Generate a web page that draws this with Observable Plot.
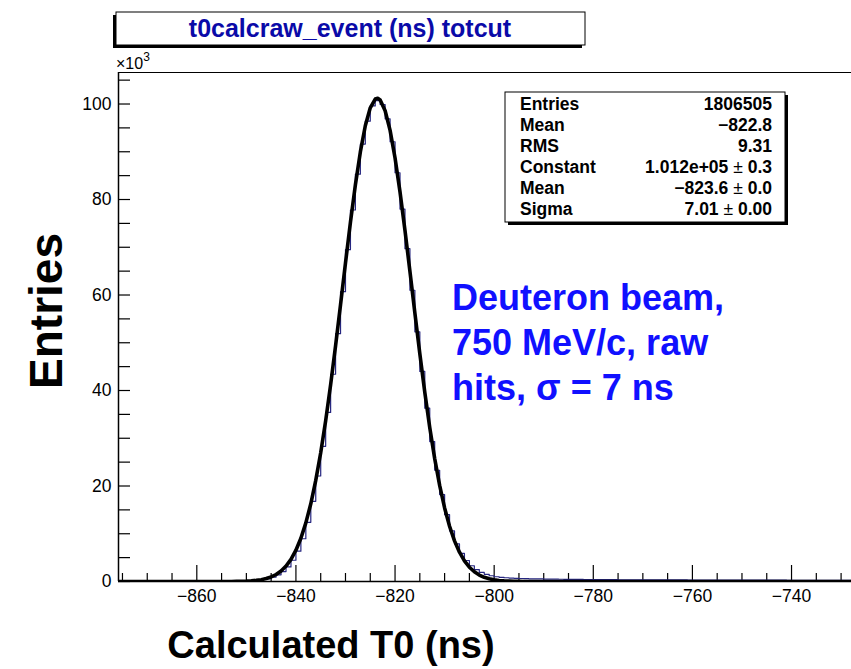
<!DOCTYPE html>
<html><head><meta charset="utf-8">
<script src="https://cdn.jsdelivr.net/npm/d3@7"></script>
<script src="https://cdn.jsdelivr.net/npm/@observablehq/plot@0.6"></script>
<style>
body{margin:0;background:#fff;}
#chart{width:851px;height:669px;overflow:hidden;}
</style></head><body><div id="chart"></div>
<script>
// ---- tick values ----
const xMajorTicks = [-860, -840, -820, -800, -780, -760, -740];
const xMinorTicks = [-875, -870, -865, -855, -850, -845, -835, -830, -825, -815, -810, -805, -795, -790, -785, -775, -770, -765, -755, -750, -745, -735, -730];
const yMajorTicks = [0, 20, 40, 60, 80, 100];
const yMinorTicks = [5, 10, 15, 25, 30, 35, 45, 50, 55, 65, 70, 75, 85, 90, 95, 105];

// ---- histogram: 1 ns bins, counts in units of 10^3, first bin low edge ----
const histStart = -876;
const histValues = [
  0, 0, 0, 0, 0, 0, 0, 0, 0, 0,
  0, 0, 0, 0, 0, 0, 0, 0, 0, 0,
  0.01, 0.02, 0.03, 0.05, 0.07, 0.10, 0.14, 0.20, 0.29, 0.42,
  0.60, 0.92, 1.40, 2.08, 3.05, 4.45, 6.35, 8.95, 12.4, 16.8,
  22.1, 28.3, 35.4, 43.4, 51.9, 60.7, 69.5, 77.8, 85.3, 91.6,
  96.4, 99.6, 100.7, 99.9, 96.9, 92.1, 85.6, 78.0, 69.7, 61.0,
  52.3, 44.0, 36.3, 29.3, 23.3, 18.2, 14.0, 10.6, 7.9, 5.9,
  4.4, 3.3, 2.5, 1.9, 1.5, 1.2, 1.0, 0.88, 0.79, 0.72,
  0.67, 0.63, 0.60, 0.57, 0.55, 0.53, 0.51, 0.49, 0.48, 0.47,
  0.46, 0.45, 0.44, 0.43, 0.42, 0.41, 0.40, 0.40, 0.39, 0.38,
  0.38, 0.37, 0.37, 0.36, 0.36, 0.35, 0.35, 0.34, 0.34, 0.33,
  0.33, 0.33, 0.32, 0.32, 0.32, 0.31, 0.31, 0.31, 0.30, 0.30,
  0.30, 0.30, 0.29, 0.29, 0.29, 0.29, 0.28, 0.28, 0.28, 0.28,
  0.27, 0.27, 0.27, 0.27, 0.27, 0.26, 0.26, 0.26, 0.26, 0.26,
  0.25, 0.25, 0.25, 0.25, 0.25, 0.25, 0.24, 0.24
];

// ---- gaussian fit curve as drawn (x in ns, y in 10^3) ----
const fitX = [-876, -860, -856, -854, -853, -852, -851, -850, -849, -848, -847, -846, -845, -844, -843, -842, -841, -840, -839, -838, -837, -836, -835, -834, -833, -832, -831, -830, -829, -828, -827, -826, -825, -824, -823.5, -823, -822, -821, -820, -819, -818, -817, -816, -815, -814, -813, -812, -811, -810, -809, -808, -807, -806, -805, -804, -803, -802, -801, -800, -799, -798, -797, -796, -795, -794, -792, -790, -728];
const fitY = [0, 0, 0.002, 0.008, 0.015, 0.028, 0.049, 0.084, 0.143, 0.237, 0.385, 0.614, 0.958, 1.467, 2.199, 3.229, 4.646, 6.554, 9.061, 12.27, 16.28, 21.17, 26.97, 33.67, 41.18, 49.37, 57.97, 66.71, 75.22, 83.11, 89.96, 95.44, 99.21, 101.04, 101.19, 100.83, 98.60, 94.47, 88.70, 81.60, 73.55, 64.97, 56.23, 47.69, 39.62, 32.26, 25.74, 20.12, 15.41, 11.57, 8.509, 6.131, 4.329, 2.995, 2.031, 1.349, 0.878, 0.560, 0.350, 0.214, 0.129, 0.076, 0.044, 0.025, 0.013, 0.003, 0, 0];

// ---- texts ----
const titleText = "t0calcraw_event (ns) totcut";
const xTitle = "Calculated T0 (ns)";
const yTitle = "Entries";
const statLabels = ["Entries", "Mean", "RMS", "Constant", "Mean", "Sigma"];
const statValues = [["1806505"], ["\u2212822.8"], ["9.31"], ["1.012e+05", "0.3"], ["\u2212823.6", "0.0"], ["7.01", "0.00"]];
const noteLines = ["Deuteron beam,", "750 MeV/c, raw", "hits, \u03c3 = 7 ns"];

// ---- build ----
const xDomain = [-875.8, -727.9];
const yDomain = [0, 106.6];
const W = 851, H = 669, mL = 118, mR = 0, mT = 72, mB = 88;
const plotW = W - mL - mR, plotH = H - mT - mB;

const hist = histValues.map((v, i) => ({x: histStart + i, y: v}));
hist.push({x: histStart + histValues.length, y: histValues[histValues.length - 1]});
const fit = fitX.map((x, i) => ({x, y: fitY[i]}));

const font = "'Liberation Sans', Arial, Helvetica, sans-serif";

const chart = Plot.plot({
  width: W, height: H,
  marginLeft: mL, marginRight: mR, marginTop: mT, marginBottom: mB,
  x: {domain: xDomain},
  y: {domain: yDomain},
  style: {fontFamily: font, background: "white", color: "black"},
  marks: [
    Plot.tickX(xMinorTicks, {x: d => d, insetTop: plotH - 8, stroke: "black", strokeWidth: 1.2}),
    Plot.tickX(xMajorTicks, {x: d => d, insetTop: plotH - 16, stroke: "black", strokeWidth: 1.2}),
    Plot.tickY(yMinorTicks.concat(yMajorTicks), {y: d => d, insetRight: plotW - 12, stroke: "black", strokeWidth: 1.2}),
    Plot.axisX(xMajorTicks, {tickSize: 0, tickPadding: 8, fontSize: 17.5, label: null}),
    Plot.axisY(yMajorTicks, {tickSize: 0, tickPadding: 7, fontSize: 17.5, label: null}),
    Plot.ruleY([yDomain[1]], {stroke: "black", strokeWidth: 1.2}),
    Plot.ruleX([xDomain[0]], {stroke: "black", strokeWidth: 1.5}),
    Plot.line(hist, {x: "x", y: "y", curve: "step-after", stroke: "#262680", strokeWidth: 1.2, clip: true}),
    Plot.line(fit, {x: "x", y: "y", stroke: "black", strokeWidth: 3.6, strokeLinejoin: "round", clip: true}),
    Plot.ruleY([0], {stroke: "black", strokeWidth: 1.5})
  ]
});
document.getElementById("chart").appendChild(chart);

const svg = d3.select(chart);
const g = svg.append("g").attr("font-family", font).attr("text-anchor", "start").attr("fill", "black");

// ×10^3 multiplier
const mult = g.append("text").attr("x", 116).attr("y", 69).attr("font-size", 16);
mult.append("tspan").text("\u00d710");
mult.append("tspan").attr("dy", -8).attr("font-size", 12).text("3");

// title box
g.append("rect").attr("x", 113).attr("y", 15).attr("width", 469).attr("height", 33).attr("fill", "black");
g.append("rect").attr("x", 116).attr("y", 12).attr("width", 469).attr("height", 33).attr("fill", "white").attr("stroke", "black").attr("stroke-width", 1);
g.append("text").attr("x", 350).attr("y", 37).attr("text-anchor", "middle")
  .attr("font-size", 25).attr("font-weight", "bold").attr("fill", "#0a0aa8").text(titleText);

// stats box
g.append("rect").attr("x", 508).attr("y", 95).attr("width", 280).attr("height", 130).attr("fill", "black");
g.append("rect").attr("x", 505).attr("y", 92).attr("width", 280).attr("height", 130).attr("fill", "white").attr("stroke", "black").attr("stroke-width", 1);
statLabels.forEach((lab, i) => {
  const yb = 110 + i * 21;
  g.append("text").attr("x", 520).attr("y", yb).attr("text-anchor", "start").attr("font-size", 17.5).attr("font-weight", "bold").text(lab);
  const t = g.append("text").attr("x", 772).attr("y", yb).attr("text-anchor", "end").attr("font-size", 17.5).attr("font-weight", "bold");
  const v = statValues[i];
  t.append("tspan").text(v[0]);
  if (v.length > 1) {
    t.append("tspan").attr("font-weight", "normal").text(" \u00b1 ");
    t.append("tspan").text(v[1]);
  }
});

// annotation
noteLines.forEach((line, i) => {
  g.append("text").attr("x", 452).attr("y", 310 + i * 45).attr("text-anchor", "start").attr("font-size", 36)
    .attr("font-weight", "bold").attr("fill", "#1010ff").text(line);
});

// axis titles
g.append("text").attr("x", 331).attr("y", 658).attr("text-anchor", "middle")
  .attr("font-size", 38).attr("font-weight", "bold").text(xTitle);
g.append("text").attr("transform", "translate(62,311) rotate(-90)").attr("text-anchor", "middle")
  .attr("font-size", 46).attr("font-weight", "bold").text(yTitle);
</script></body></html>
